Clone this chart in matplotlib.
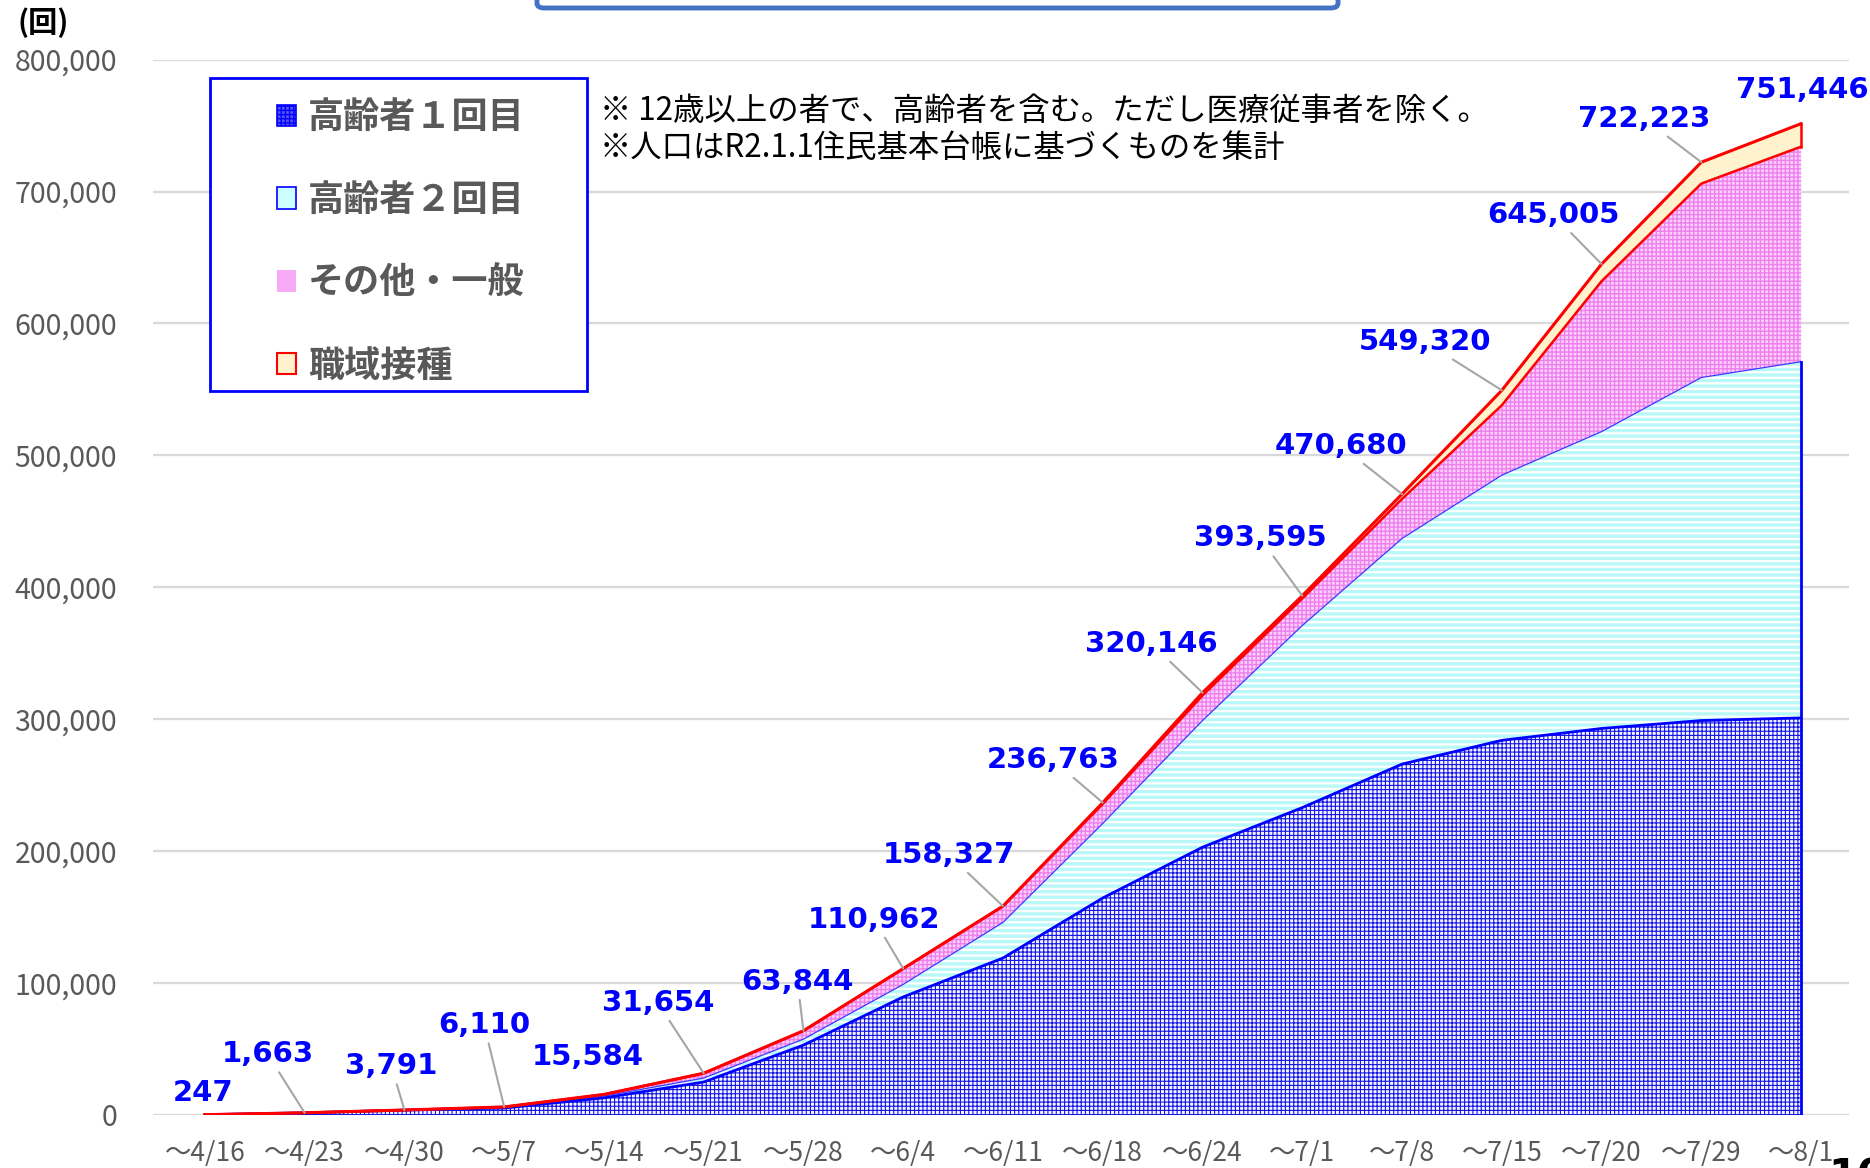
import numpy as np
import matplotlib.pyplot as plt
from matplotlib.patches import Patch, Rectangle, FancyBboxPatch

plt.rcParams['font.family'] = ['Noto Sans CJK JP', 'DejaVu Sans']

#%% data (cumulative doses)
dates = ["～4/16", "～4/23", "～4/30", "～5/7", "～5/14", "～5/21", "～5/28", "～6/4",
         "～6/11", "～6/18", "～6/24", "～7/1", "～7/8", "～7/15", "～7/20", "～7/29", "～8/1"]
totals = [247, 1663, 3791, 6110, 15584, 31654, 63844, 110962, 158327,
          236763, 320146, 393595, 470680, 549320, 645005, 722223, 751446]
elderly_1st = [247, 1663, 3700, 5300, 13000, 25000, 53000, 89500, 119000,
               164500, 203000, 233000, 266000, 284000, 293000, 299000, 301000]
elderly_2nd = [0, 0, 91, 610, 1300, 3000, 4500, 9500, 27000,
               56500, 96000, 138000, 171000, 201000, 225000, 260000, 270000]
workplace = [0, 0, 0, 0, 0, 0, 0, 0, 0,
             1000, 2146, 2095, 3680, 11320, 13005, 16223, 17446]
# その他・一般 = remainder
others = [t - a - b - w for t, a, b, w in zip(totals, elderly_1st, elderly_2nd, workplace)]

series_names = ["高齢者１回目", "高齢者２回目", "その他・一般", "職域接種"]

# label text positions (data coords) and whether a leader line is drawn
label_pos = [(-0.02, 17000), (0.63, 46000), (1.87, 37000), (2.80, 68000), (3.84, 44000),
             (4.54, 85000), (5.94, 101000), (6.71, 148000), (7.46, 197000), (8.50, 269000),
             (9.49, 357000), (10.58, 437000), (11.39, 507000), (12.23, 586000),
             (13.52, 682000), (14.43, 755000), (16.01, 777000)]
leader = [False, True, True, True, False, True, True, True, True, True,
          True, True, True, True, True, True, False]

#%%
x = np.arange(len(dates))
c1 = np.array(elderly_1st, dtype=float)
c2 = c1 + np.array(elderly_2nd)
c3 = c2 + np.array(others)
c4 = c3 + np.array(workplace)

fig = plt.figure(figsize=(18.7, 11.68), dpi=100)
ax = fig.add_axes([153 / 1870, 53 / 1168, 1696 / 1870, 1055.4 / 1168])
ax.set_xlim(-0.52, 16.48)
ax.set_ylim(0, 800000)


def layer(lo, hi, fc, hc, hatch, hlw):
    with plt.rc_context({'hatch.linewidth': hlw}):
        coll = ax.fill_between(x, lo, hi, facecolor=fc, edgecolor=hc, hatch=hatch,
                               linewidth=0, zorder=2)
    if hasattr(coll, "set_hatch_linewidth"):
        coll.set_hatch_linewidth(hlw)
    return coll


layer(0, c1, '#f4f4ff', '#1414e6', '++++', 0.8)
layer(c1, c2, '#ffffff', '#b8f8f8', '---', 2.4)
layer(c2, c3, '#fcd0fc', '#ee80ee', '++++', 1.0)
layer(c3, c4, '#fff2cc', '#fff2cc', None, 0.5)

# outlines
ax.plot(x, c2, color='#3b3bff', lw=0.9, zorder=3)
ax.plot(x, c1, color='#0000ff', lw=2.0, zorder=3)
ax.plot([x[-1], x[-1]], [0, c2[-1]], color='#0000ff', lw=2.0, zorder=3)
ax.plot(x, c3, color='#ff0000', lw=1.8, zorder=4)
ax.plot(x, c4, color='#ff0000', lw=2.2, zorder=4)
ax.plot([x[-1], x[-1]], [c3[-1], c4[-1]], color='#ff0000', lw=1.8, zorder=4)

# value labels
for i, (pos, t) in enumerate(zip(label_pos, totals)):
    props = dict(arrowstyle='-', color='#a6a6a6', lw=1.5, shrinkA=1, shrinkB=0) if leader[i] else None
    ax.annotate(f"{t:,}", xy=(x[i], t), xytext=pos, textcoords='data',
                ha='center', va='center', fontsize=21, fontweight='bold',
                color='#0000ff', family='DejaVu Sans', arrowprops=props, zorder=5)

# axes styling
ax.set_yticks(np.arange(0, 800001, 100000))
ax.set_yticklabels([f"{v:,}" for v in range(0, 800001, 100000)])
ax.set_xticks(x)
ax.set_xticklabels(dates)
ax.yaxis.grid(True, color='#d9d9d9', lw=1.6)
ax.set_axisbelow(True)
for s in ax.spines.values():
    s.set_visible(False)
ax.tick_params(axis='y', length=0, pad=26, labelsize=20.5, labelcolor='#595959')
ax.tick_params(axis='x', length=0, pad=18, labelsize=19, labelcolor='#595959')

# legend (frame drawn separately)
handles = [Patch(facecolor='#5555ee', edgecolor='#0000ff', hatch='++++', lw=1.2),
           Patch(facecolor='#ccffff', edgecolor='#0000ff', lw=1.2),
           Patch(facecolor='#f6aaf6', edgecolor='#f6aaf6', lw=0),
           Patch(facecolor='#fff2cc', edgecolor='#ff0000', lw=1.5)]
fig.patches.append(Rectangle((210 / 1870, 1 - 391 / 1168), 377 / 1870, 313 / 1168,
                             transform=fig.transFigure, facecolor='white',
                             edgecolor='#0000ff', lw=2, zorder=3))
leg = fig.legend(handles, series_names, loc='upper left',
                 bbox_to_anchor=(277 / 1870, 1 - 99 / 1168), frameon=False,
                 borderaxespad=0, borderpad=0, handlelength=0.53, handleheight=0.53,
                 handletextpad=0.33, labelspacing=1.27,
                 prop={'family': 'Noto Sans CJK JP', 'weight': 'bold', 'size': 26})
for t in leg.get_texts():
    t.set_color('#595959')

# notes
fig.text(600 / 1870, 1 - 111 / 1168, "※ 12歳以上の者で、高齢者を含む。ただし医療従事者を除く。",
         fontsize=22.6, va='center', ha='left', color='black')
fig.text(600 / 1870, 1 - 148 / 1168, "※人口はR2.1.1住民基本台帳に基づくものを集計",
         fontsize=22.6, va='center', ha='left', color='black')
fig.text(43 / 1870, 1 - 23 / 1168, "(回)", fontsize=21, fontweight='bold',
         ha='center', va='center', color='black')

# title box (cut off at top)
fig.patches.append(FancyBboxPatch((537 / 1870, 1 - 8 / 1168), 801 / 1870, 0.1,
                                  boxstyle="round,pad=0,rounding_size=0.004",
                                  transform=fig.transFigure, facecolor='none',
                                  edgecolor='#4472c4', lw=3.5))
# page number (cut off at bottom, as in the source slide)
fig.text(1828 / 1870, 1 - 1157 / 1168, "10", fontsize=30, fontweight='bold',
         ha='left', va='top', color='black', family='DejaVu Sans')

fig.savefig("out.png", dpi=100)
